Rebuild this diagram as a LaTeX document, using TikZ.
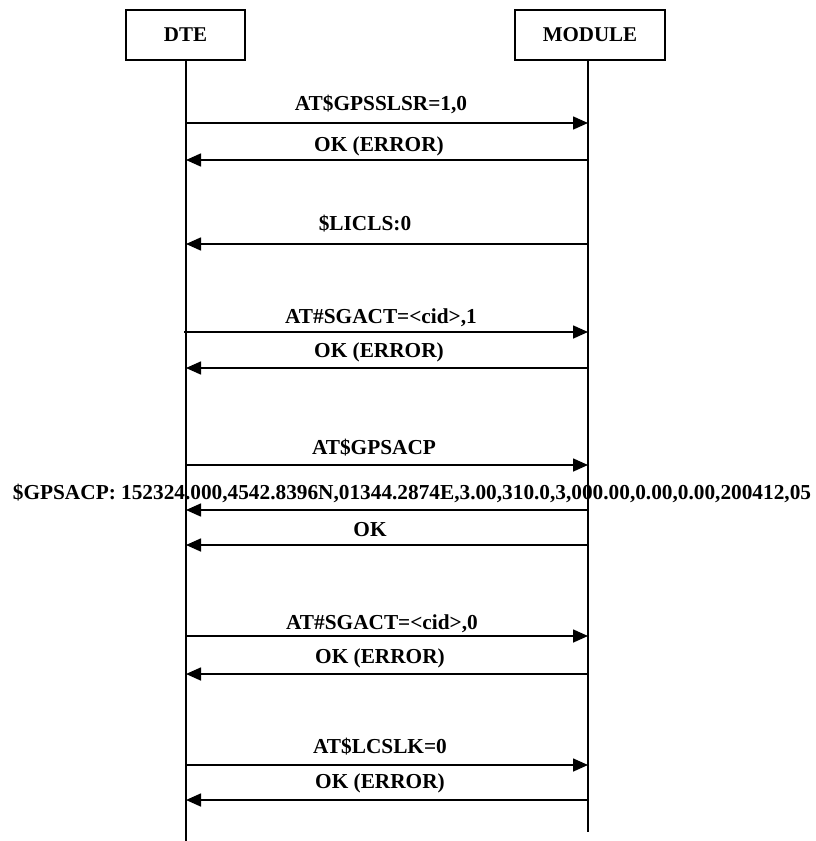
\documentclass[tikz,border=0pt]{standalone}
\usepackage{fontspec}
\setmainfont{Liberation Serif}
\usetikzlibrary{arrows.meta}
\tikzset{
  actor/.style={draw, line width=1.6pt, minimum width=#1, minimum height=50pt, inner sep=0pt, font=\fontsize{21}{25}\selectfont\bfseries},
  life/.style={line width=1.6pt},
  msg/.style={line width=1.6pt, -{Triangle[length=15pt,width=13pt]}},
  lbl/.style={inner sep=0pt, anchor=base, font=\fontsize{21.3}{25}\selectfont\bfseries},
}
\begin{document}
\begin{tikzpicture}[x=1pt,y=-1pt]
\useasboundingbox (0,0) rectangle (815,841);
\node[actor=119pt] (dte) at (185.5,35) {DTE};
\node[actor=150pt] (mod) at (590,35) {MODULE};
\coordinate (dteend) at (186,841);
\coordinate (modend) at (588,832);
\draw[life] (dte.south -| dteend) -- (dteend);
\draw[life] (mod.south -| modend) -- (modend);
% message rows
\foreach \n/\y in {1/123,2/160,3/244,4/332,5/368,6/465,7/510,8/545,9/636,10/674,11/765,12/800}{
  \coordinate (L\n) at (186,\y);
  \coordinate (R\n) at (588,\y);
}
\draw[msg] (L1) -- (R1);
\draw[msg] (R2) -- (L2);
\draw[msg] (R3) -- (L3);
\draw[msg] ([xshift=-2pt]L4) -- (R4);
\draw[msg] (R5) -- (L5);
\draw[msg] (L6) -- (R6);
\draw[msg] (R7) -- (L7);
\draw[msg] (R8) -- (L8);
\draw[msg] (L9) -- (R9);
\draw[msg] (R10) -- (L10);
\draw[msg] (L11) -- (R11);
\draw[msg] (R12) -- (L12);
% labels
\node[lbl] (t1) at (381,110) {AT\$GPSSLSR=1,0};
\node[lbl] (t2) at (379,151) {OK (ERROR)};
\node[lbl] (t3) at (365,230) {\$LICLS:0};
\node[lbl] (t4) at (381,323) {AT\#SGACT=<cid>,1};
\node[lbl] (t5) at (379,357) {OK (ERROR)};
\node[lbl] (t6) at (374,454) {AT\$GPSACP};
\node[lbl] (t7) at (412,499) {\$GPSACP: 152324.000,4542.8396N,01344.2874E,3.00,310.0,3,000.00,0.00,0.00,200412,05};
\node[lbl] (t8) at (370,536) {OK};
\node[lbl] (t9) at (382,629) {AT\#SGACT=<cid>,0};
\node[lbl] (t10) at (380,663) {OK (ERROR)};
\node[lbl] (t11) at (380,753) {AT\$LCSLK=0};
\node[lbl] (t12) at (380,788) {OK (ERROR)};
\end{tikzpicture}
\end{document}
